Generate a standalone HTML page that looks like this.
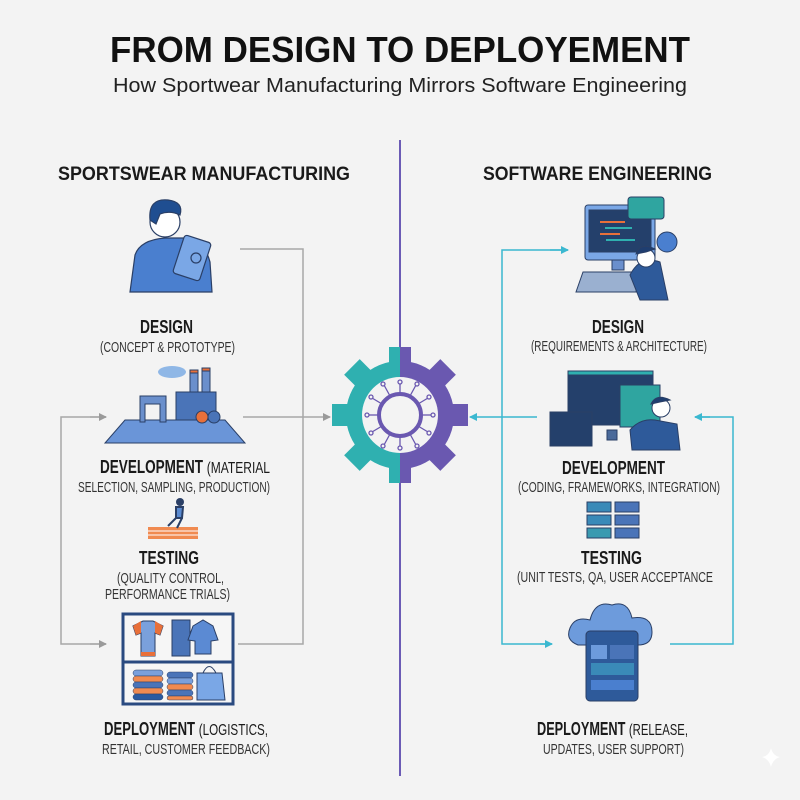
<!DOCTYPE html>
<html><head><meta charset="utf-8"><style>
html,body{margin:0;padding:0;background:#f3f3f3;}
svg{display:block}
text{font-family:"Liberation Sans",sans-serif;fill:#1a1a1a}
.h{font-weight:bold;font-size:18px}
.s{font-size:15px;fill:#333}
</style></head><body>
<svg width="800" height="800" viewBox="0 0 800 800" xmlns="http://www.w3.org/2000/svg">
<defs>
<marker id="ag" markerWidth="8" markerHeight="8" refX="7" refY="4" orient="auto" markerUnits="userSpaceOnUse"><path d="M0,0 L8,4 L0,8 Z" fill="#9a9a9a"/></marker>
<marker id="ac" markerWidth="8" markerHeight="8" refX="7" refY="4" orient="auto" markerUnits="userSpaceOnUse"><path d="M0,0 L8,4 L0,8 Z" fill="#3bb8d0"/></marker>
<clipPath id="cl"><rect x="300" y="300" width="100" height="250"/></clipPath>
<clipPath id="cr"><rect x="400" y="300" width="100" height="250"/></clipPath>
<g id="gear">
<circle cx="400" cy="415" r="54"/>
<rect x="389" y="347" width="22" height="25"/>
<rect x="389" y="347" width="22" height="25" transform="rotate(45 400 415)"/>
<rect x="389" y="347" width="22" height="25" transform="rotate(90 400 415)"/>
<rect x="389" y="347" width="22" height="25" transform="rotate(135 400 415)"/>
<rect x="389" y="347" width="22" height="25" transform="rotate(180 400 415)"/>
<rect x="389" y="347" width="22" height="25" transform="rotate(225 400 415)"/>
<rect x="389" y="347" width="22" height="25" transform="rotate(270 400 415)"/>
<rect x="389" y="347" width="22" height="25" transform="rotate(315 400 415)"/>
</g>
</defs>
<rect width="800" height="800" fill="#f3f3f3"/>
<text x="110" y="62" textLength="580" lengthAdjust="spacingAndGlyphs" style="font-weight:bold;font-size:36px;fill:#111">FROM DESIGN TO DEPLOYEMENT</text>
<text x="113" y="92" textLength="574" lengthAdjust="spacingAndGlyphs" style="font-size:20px;fill:#222">How Sportwear Manufacturing Mirrors Software Engineering</text>
<line x1="400" y1="140" x2="400" y2="776" stroke="#6b5bb5" stroke-width="2"/>
<text x="58" y="180" textLength="292" lengthAdjust="spacingAndGlyphs" class="h" style="font-size:19px">SPORTSWEAR MANUFACTURING</text>
<text x="483" y="180" textLength="229" lengthAdjust="spacingAndGlyphs" class="h" style="font-size:19px">SOFTWARE ENGINEERING</text>

<g fill="none" stroke="#a8a8a8" stroke-width="1.5">
<polyline points="240,249 303,249 303,644 238,644"/>
<line x1="243" y1="417" x2="330" y2="417" marker-end="url(#ag)"/>
<polyline points="106,417 61,417 61,644 106,644" />
<line x1="90" y1="417" x2="106" y2="417" marker-end="url(#ag)"/>
<line x1="90" y1="644" x2="106" y2="644" marker-end="url(#ag)"/>
</g>
<g fill="none" stroke="#3bb8d0" stroke-width="1.5">
<polyline points="568,250 502,250 502,644 552,644"/>
<line x1="550" y1="250" x2="568" y2="250" marker-end="url(#ac)"/>
<line x1="540" y1="644" x2="552" y2="644" marker-end="url(#ac)"/>
<line x1="537" y1="417" x2="470" y2="417" marker-end="url(#ac)"/>
<polyline points="670,644 733,644 733,417 695,417"/>
<line x1="710" y1="417" x2="695" y2="417" marker-end="url(#ac)"/>
</g>

<g clip-path="url(#cl)" fill="#2fb0b0"><use href="#gear"/></g>
<g clip-path="url(#cr)" fill="#6a58b0"><use href="#gear"/></g>
<circle cx="400" cy="415" r="38" fill="#f3f3f3"/>
<circle cx="400" cy="415" r="21" fill="none" stroke="#6a58b0" stroke-width="4"/>
<g stroke="#6a58b0" stroke-width="1.3" fill="#f3f3f3">
<line x1="400" y1="394" x2="400" y2="383"/><circle cx="400" cy="382" r="2"/>
<line x1="410" y1="396" x2="416" y2="385"/><circle cx="417" cy="384" r="2"/>
<line x1="418" y1="404" x2="428" y2="398"/><circle cx="429" cy="397" r="2"/>
<line x1="421" y1="415" x2="432" y2="415"/><circle cx="433" cy="415" r="2"/>
<line x1="418" y1="426" x2="428" y2="432"/><circle cx="429" cy="433" r="2"/>
<line x1="410" y1="434" x2="416" y2="445"/><circle cx="417" cy="446" r="2"/>
<line x1="400" y1="436" x2="400" y2="447"/><circle cx="400" cy="448" r="2"/>
<line x1="390" y1="434" x2="384" y2="445"/><circle cx="383" cy="446" r="2"/>
<line x1="382" y1="426" x2="372" y2="432"/><circle cx="371" cy="433" r="2"/>
<line x1="379" y1="415" x2="368" y2="415"/><circle cx="367" cy="415" r="2"/>
<line x1="382" y1="404" x2="372" y2="398"/><circle cx="371" cy="397" r="2"/>
<line x1="390" y1="396" x2="384" y2="385"/><circle cx="383" cy="384" r="2"/>
</g>

<g stroke="#2a3f66" stroke-width="1.2">
<path d="M130,292 L135,255 Q140,240 165,238 L185,238 Q205,242 210,262 L212,292 Z" fill="#4a7fcf"/>
<circle cx="165" cy="222" r="15" fill="#fff"/>
<path d="M150,220 Q148,198 168,200 Q184,202 180,215 Q170,210 160,214 L156,224 Z" fill="#1f4e91"/>
<rect x="178" y="238" width="28" height="40" rx="3" fill="#7aa7e6" transform="rotate(18 192 258)"/>
<circle cx="196" cy="258" r="5" fill="#7aa7e6"/>
</g>
<text x="140" y="333" textLength="53" lengthAdjust="spacingAndGlyphs" class="h">DESIGN</text>
<text x="100" y="352" textLength="135" lengthAdjust="spacingAndGlyphs" class="s">(CONCEPT &amp; PROTOTYPE)</text>

<g stroke="#2a3f66" stroke-width="1">
<path d="M125,420 L225,420 L245,443 L105,443 Z" fill="#6a95d8"/>
<path d="M140,396 L166,396 L166,422 L160,422 L160,404 L145,404 L145,422 L140,422 Z" fill="#6a8fcc"/>
<rect x="176" y="392" width="40" height="28" fill="#4a74b8"/>
<rect x="190" y="372" width="8" height="20" fill="#6a8fcc"/><rect x="202" y="370" width="8" height="22" fill="#6a8fcc"/>
<rect x="190" y="370" width="8" height="3" fill="#e8703a"/><rect x="202" y="368" width="8" height="3" fill="#e8703a"/>
<circle cx="202" cy="417" r="6" fill="#e8703a"/><circle cx="214" cy="417" r="6" fill="#4a74b8"/>
</g>
<ellipse cx="172" cy="372" rx="14" ry="6" fill="#8fb7e6"/>
<text x="100" y="473" textLength="170" lengthAdjust="spacingAndGlyphs" class="h">DEVELOPMENT <tspan style="font-weight:normal;font-size:16px">(MATERIAL</tspan></text>
<text x="78" y="492" textLength="192" lengthAdjust="spacingAndGlyphs" class="s">SELECTION, SAMPLING, PRODUCTION)</text>

<rect x="148" y="527" width="50" height="12" fill="#f08a50"/>
<line x1="148" y1="531" x2="198" y2="531" stroke="#fff"/><line x1="148" y1="535" x2="198" y2="535" stroke="#fff"/>
<circle cx="180" cy="502" r="4" fill="#2a3f66"/>
<path d="M176,507 L183,507 L182,518 L176,518 Z M176,518 L168,526 M182,518 L177,528" stroke="#2a3f66" stroke-width="2" fill="#5a8ad0"/>
<text x="139" y="564" textLength="60" lengthAdjust="spacingAndGlyphs" class="h">TESTING</text>
<text x="117" y="583" textLength="107" lengthAdjust="spacingAndGlyphs" class="s">(QUALITY CONTROL,</text>
<text x="105" y="599" textLength="125" lengthAdjust="spacingAndGlyphs" class="s">PERFORMANCE TRIALS)</text>

<rect x="123" y="614" width="110" height="90" fill="#f6f6f6" stroke="#2a4a80" stroke-width="3"/>
<line x1="123" y1="662" x2="233" y2="662" stroke="#2a4a80" stroke-width="3"/>
<path d="M133,626 L143,621 L153,621 L163,626 L160,635 L155,633 L155,656 L141,656 L141,633 L136,635 Z" fill="#7aa0dc" stroke="#2a3f66"/>
<rect x="141" y="652" width="14" height="4" fill="#e8703a"/>
<path d="M133,626 L141,621 L141,633 L136,635 Z M163,626 L155,621 L155,633 L160,635 Z" fill="#e8703a"/>
<rect x="172" y="620" width="18" height="36" fill="#4a74b8" stroke="#2a3f66"/>
<path d="M193,626 L203,620 L213,626 L218,640 L211,641 L211,654 L195,654 L195,641 L188,640 Z" fill="#5b8ad3" stroke="#2a3f66"/>
<g stroke="#2a3f66" stroke-width=".5">
<rect x="133" y="670" width="30" height="6" rx="3" fill="#7aa0dc"/><rect x="133" y="676" width="30" height="6" rx="3" fill="#f08a50"/><rect x="133" y="682" width="30" height="6" rx="3" fill="#4a74b8"/><rect x="133" y="688" width="30" height="6" rx="3" fill="#f08a50"/><rect x="133" y="694" width="30" height="6" rx="3" fill="#2a5aa0"/>
<rect x="167" y="672" width="26" height="6" rx="3" fill="#4a74b8"/><rect x="167" y="678" width="26" height="6" rx="3" fill="#7aa0dc"/><rect x="167" y="684" width="26" height="6" rx="3" fill="#f08a50"/><rect x="167" y="690" width="26" height="6" rx="3" fill="#4a74b8"/><rect x="167" y="696" width="26" height="4" rx="2" fill="#f08a50"/>
</g>
<path d="M197,673 L222,673 L225,700 L197,700 Z" fill="#7aa7e6" stroke="#2a3f66"/>
<path d="M203,673 Q209,660 216,673" fill="none" stroke="#2a3f66"/>
<text x="104" y="735" textLength="164" lengthAdjust="spacingAndGlyphs" class="h">DEPLOYMENT <tspan style="font-weight:normal;font-size:16px">(LOGISTICS,</tspan></text>
<text x="102" y="754" textLength="168" lengthAdjust="spacingAndGlyphs" class="s">RETAIL, CUSTOMER FEEDBACK)</text>

<g stroke="#2a3f66" stroke-width="1">
<rect x="585" y="205" width="70" height="55" rx="3" fill="#7aa7e6"/>
<rect x="589" y="210" width="62" height="42" fill="#24406b"/>
<rect x="612" y="260" width="12" height="10" fill="#6a8fcc"/>
<path d="M583,272 L640,272 L636,292 L576,292 Z" fill="#9ab0d0"/>
<rect x="628" y="197" width="36" height="22" rx="3" fill="#2fa5a0"/>
<circle cx="667" cy="242" r="10" fill="#4a7fcf"/>
<path d="M630,275 Q640,255 660,262 L668,300 L640,300 Z" fill="#2e5a9a"/>
<circle cx="646" cy="258" r="9" fill="#fff"/>
<path d="M636,254 Q640,242 655,249 L646,252 Z" fill="#1f3e70"/>
</g>
<g stroke-width="2"><line x1="600" y1="222" x2="625" y2="222" stroke="#e8703a"/><line x1="605" y1="228" x2="632" y2="228" stroke="#2fb0b0"/><line x1="600" y1="234" x2="620" y2="234" stroke="#e8703a"/><line x1="606" y1="240" x2="635" y2="240" stroke="#2fb0b0"/></g>
<text x="592" y="333" textLength="52" lengthAdjust="spacingAndGlyphs" class="h">DESIGN</text>
<text x="531" y="351" textLength="176" lengthAdjust="spacingAndGlyphs" class="s">(REQUIREMENTS &amp; ARCHITECTURE)</text>

<g stroke="#2a3f66" stroke-width="1">
<rect x="568" y="371" width="85" height="54" fill="#24406b"/>
<rect x="568" y="371" width="85" height="4" fill="#2fb0b0"/>
<rect x="620" y="385" width="40" height="42" fill="#2fa5a0"/>
<rect x="550" y="412" width="42" height="34" fill="#24406b"/>
<rect x="607" y="430" width="10" height="10" fill="#4a6a9a"/>
<path d="M630,430 Q640,418 655,420 L677,424 L680,450 L632,450 Z" fill="#2e5a9a"/>
<circle cx="661" cy="408" r="9" fill="#fff"/>
<path d="M651,404 Q656,393 670,400 L660,402 Z" fill="#1f3e70"/>
</g>
<text x="562" y="474" textLength="103" lengthAdjust="spacingAndGlyphs" class="h">DEVELOPMENT</text>
<text x="518" y="492" textLength="202" lengthAdjust="spacingAndGlyphs" class="s">(CODING, FRAMEWORKS, INTEGRATION)</text>

<g stroke="#2a3f66" stroke-width="1">
<rect x="587" y="502" width="24" height="10" fill="#3a8ab8"/><rect x="615" y="502" width="24" height="10" fill="#4a74b8"/>
<rect x="587" y="515" width="24" height="10" fill="#3a8ab8"/><rect x="615" y="515" width="24" height="10" fill="#4a74b8"/>
<rect x="587" y="528" width="24" height="10" fill="#3a9ab0"/><rect x="615" y="528" width="24" height="10" fill="#4a74b8"/>
</g>
<text x="581" y="564" textLength="61" lengthAdjust="spacingAndGlyphs" class="h">TESTING</text>
<text x="517" y="582" textLength="196" lengthAdjust="spacingAndGlyphs" class="s">(UNIT TESTS, QA, USER ACCEPTANCE</text>

<path d="M578,645 Q565,640 570,628 Q575,616 590,620 Q595,600 612,605 Q628,600 632,618 Q652,615 652,632 Q652,645 638,645 Z" fill="#6d9bdc" stroke="#2a3f66"/>
<rect x="586" y="631" width="52" height="70" rx="4" fill="#2e5a9a" stroke="#2a3f66"/>
<rect x="591" y="645" width="16" height="14" fill="#6d9bdc"/><rect x="610" y="645" width="24" height="14" fill="#4a74b8"/>
<rect x="591" y="663" width="43" height="12" fill="#3a8ab8"/><rect x="591" y="680" width="43" height="10" fill="#4a7fcf"/>
<text x="537" y="735" textLength="151" lengthAdjust="spacingAndGlyphs" class="h">DEPLOYMENT <tspan style="font-weight:normal;font-size:16px">(RELEASE,</tspan></text>
<text x="543" y="754" textLength="141" lengthAdjust="spacingAndGlyphs" class="s">UPDATES, USER SUPPORT)</text>
<path d="M771,748 Q773,756 780,757 Q773,759 771,767 Q769,759 762,757 Q769,756 771,748 Z" fill="#fff"/>
</svg>
</body></html>
